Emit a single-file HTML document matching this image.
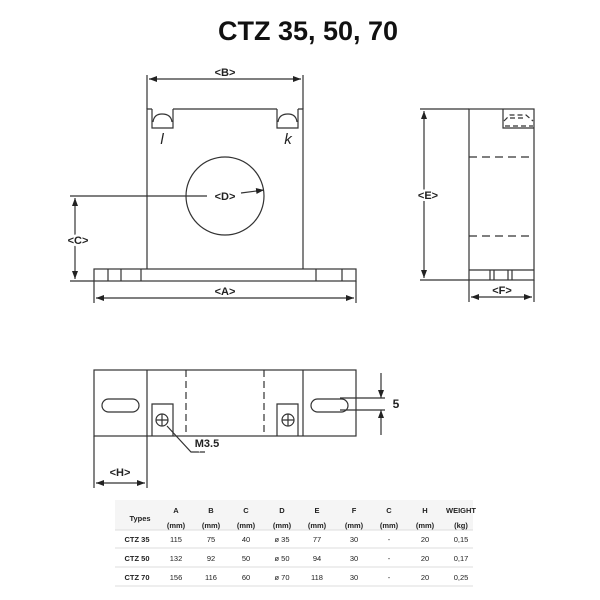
<!DOCTYPE html>
<html><head><style>
body{margin:0;background:#fff;width:600px;height:600px;overflow:hidden}
svg{display:block}
text{font-family:"Liberation Sans",sans-serif}
.lb text{paint-order:stroke;stroke:#fff;stroke-width:4px}
</style></head><body>
<svg width="600" height="600" viewBox="0 0 600 600">
<defs><marker id="a" markerWidth="8" markerHeight="6" refX="8" refY="3" orient="auto-start-reverse" markerUnits="userSpaceOnUse"><path d="M0,0 L8,3 L0,6z" fill="#222"/></marker></defs>
<text x="308" y="40" font-size="27" font-weight="bold" text-anchor="middle" fill="#111">CTZ 35, 50, 70</text>
<g stroke="#333" stroke-width="1.2" fill="none">
<path d="M147,269 V109 H152 M173,109 H277 M298,109 H303 V269"/>
<path d="M152,109 V128 H173 V109 M277,109 V128 H298 V109"/>
<path d="M153,122 Q154,114 162,114 Q171,114 172,122 M278,122 Q279,114 288,114 Q296,114 297,122"/>
<rect x="94" y="269" width="262" height="12"/>
<path d="M108,269V281M121,269V281M141,269V281M316,269V281M342,269V281"/>
<circle cx="225" cy="196" r="39"/>
<path d="M147,75V109M303,75V109"/>
<path d="M149,79H301" marker-start="url(#a)" marker-end="url(#a)"/>
<path d="M94,281V303M356,281V303"/>
<path d="M96,298H354" marker-start="url(#a)" marker-end="url(#a)"/>
<path d="M70,196H207"/>
<path d="M241,193L264,190" marker-end="url(#a)"/>
<path d="M70,281H94"/>
<path d="M75,198V279" marker-start="url(#a)" marker-end="url(#a)"/>
<rect x="469" y="109" width="65" height="171"/>
<path d="M469,270H534M490,270V280M494,270V280M508,270V280M512,270V280"/>
<path d="M503,109V128H534"/>
<path d="M469,157H534M469,236H534" stroke-dasharray="8,5"/>
<path d="M504,121L510,115H526L533,121M510,118H526M505,126H533" stroke-dasharray="5,3"/>
<path d="M420,109H469M420,280H469"/>
<path d="M424,111V278" marker-start="url(#a)" marker-end="url(#a)"/>
<path d="M469,280V302M534,280V302"/>
<path d="M471,297H532" marker-start="url(#a)" marker-end="url(#a)"/>
<rect x="94" y="370" width="262" height="66"/>
<path d="M147,370V436M303,370V436"/>
<path d="M186,370V436M264,370V436" stroke-dasharray="7,4"/>
<rect x="102" y="399" width="37" height="13" rx="6.5"/>
<rect x="311" y="399" width="37" height="13" rx="6.5"/>
<path d="M152,436V404H173V436M277,436V404H298V436"/>
<circle cx="162" cy="420" r="6"/><path d="M156,420H168M162,414V426"/>
<circle cx="288" cy="420" r="6"/><path d="M282,420H294M288,414V426"/>
<path d="M167,426L191,452H205"/>
<path d="M340,398H385M340,410H385"/>
<path d="M381,373V398" marker-end="url(#a)"/>
<path d="M381,435V410" marker-end="url(#a)"/>
<path d="M94,436V488M147,436V488"/>
<path d="M96,483H145" marker-start="url(#a)" marker-end="url(#a)"/>
</g>
<g class="lb" font-size="11" font-weight="bold" fill="#222" text-anchor="middle">
<text x="225" y="76">&lt;B&gt;</text>
<text x="225" y="295">&lt;A&gt;</text>
<text x="225" y="200">&lt;D&gt;</text>
<text x="78" y="244">&lt;C&gt;</text>
<text x="428" y="199">&lt;E&gt;</text>
<text x="502" y="294">&lt;F&gt;</text>
<text x="120" y="476">&lt;H&gt;</text>
<text x="207" y="447">M3.5</text>
<text x="396" y="408" font-size="12">5</text>
</g>
<text x="162" y="144" font-size="15" font-style="italic" font-family="Liberation Serif" text-anchor="middle" fill="#222">l</text>
<text x="288" y="144" font-size="15" font-style="italic" font-family="Liberation Serif" text-anchor="middle" fill="#222">k</text>
<rect x="115" y="500" width="358" height="30" fill="#f5f5f5"/>
<g stroke="#ddd" stroke-width="1"><path d="M115,530H473M115,548H473M115,567H473M115,586H473"/></g>
<g font-size="7.5" fill="#222" text-anchor="middle">
<g font-weight="bold"><text x="140" y="521">Types</text>
<text x="176" y="513">A</text><text x="211" y="513">B</text><text x="246" y="513">C</text><text x="282" y="513">D</text><text x="317" y="513">E</text><text x="354" y="513">F</text><text x="389" y="513">C</text><text x="425" y="513">H</text><text x="461" y="513">WEIGHT</text>
<text x="176" y="528">(mm)</text><text x="211" y="528">(mm)</text><text x="246" y="528">(mm)</text><text x="282" y="528">(mm)</text><text x="317" y="528">(mm)</text><text x="354" y="528">(mm)</text><text x="389" y="528">(mm)</text><text x="425" y="528">(mm)</text><text x="461" y="528">(kg)</text>
<text x="137" y="542">CTZ 35</text><text x="137" y="561">CTZ 50</text><text x="137" y="580">CTZ 70</text></g>
<text x="176" y="542">115</text><text x="211" y="542">75</text><text x="246" y="542">40</text><text x="282" y="542">ø 35</text><text x="317" y="542">77</text><text x="354" y="542">30</text><text x="389" y="542">-</text><text x="425" y="542">20</text><text x="461" y="542">0,15</text>
<text x="176" y="561">132</text><text x="211" y="561">92</text><text x="246" y="561">50</text><text x="282" y="561">ø 50</text><text x="317" y="561">94</text><text x="354" y="561">30</text><text x="389" y="561">-</text><text x="425" y="561">20</text><text x="461" y="561">0,17</text>
<text x="176" y="580">156</text><text x="211" y="580">116</text><text x="246" y="580">60</text><text x="282" y="580">ø 70</text><text x="317" y="580">118</text><text x="354" y="580">30</text><text x="389" y="580">-</text><text x="425" y="580">20</text><text x="461" y="580">0,25</text>
</g>
</svg>
</body></html>
